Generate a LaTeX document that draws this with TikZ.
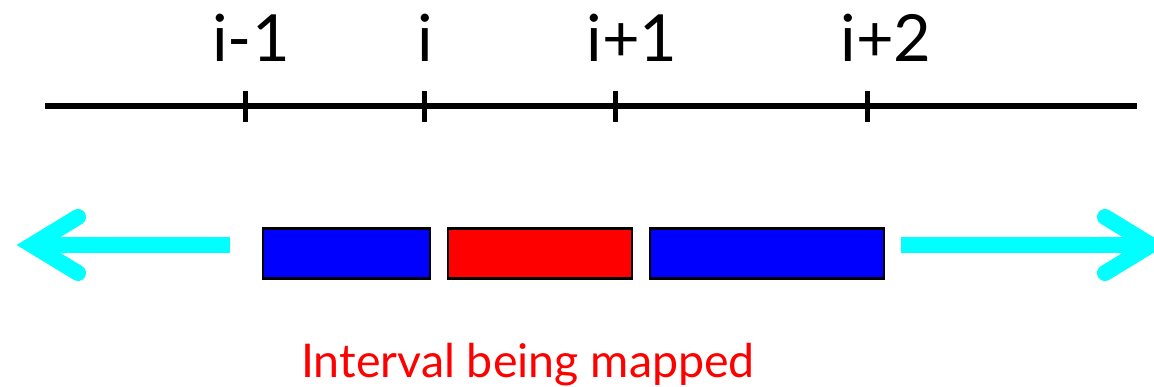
\documentclass[tikz,border=0pt]{standalone}
\usepackage{fontspec}
\setmainfont{Lato}
\definecolor{aqua}{RGB}{0,255,255}
\definecolor{pureblue}{RGB}{0,0,255}
\definecolor{purered}{RGB}{255,0,0}
\begin{document}
\begin{tikzpicture}[x=1pt,y=-1pt,
  axisline/.style={line width=5.5pt},
  tick/.style={line width=5pt},
  lab/.style={anchor=base,inner sep=0pt,font=\fontsize{65}{65}\selectfont},
  seg/.style={draw=black,line width=2.5pt,inner sep=0pt,minimum height=50pt},
  cyanarrow/.style={draw=aqua,line width=16pt},
  armstyle/.style={draw=aqua,line width=16pt,line cap=round,line join=miter}
]
\useasboundingbox (0,0) rectangle (1154,386);
% axis
\coordinate (axL) at (45,106);
\coordinate (axR) at (1137,106);
\draw[axisline] (axL) -- (axR);
\foreach \x/\n in {245/a,424/b,615/c,867/d}{
  \coordinate (t\n top) at (\x,91);
  \coordinate (t\n bot) at (\x,122);
  \draw[tick] (t\n top) -- (t\n bot);
}
\node[lab] (l1) at (251,61) {i-1};
\node[lab] (l2) at (425,61) {i};
\node[lab] (l3) at (632,61) {i+1};
\node[lab] (l4) at (886,61) {i+2};
% boxes
\node[seg,fill=pureblue,minimum width=167pt] (b1) at (346.5,253.5) {};
\node[seg,fill=purered,minimum width=184pt] (b2) at (540,253.5) {};
\node[seg,fill=pureblue,minimum width=234pt] (b3) at (767,253.5) {};
% left arrow
\coordinate (la0) at (230,245);
\coordinate (lav) at (32,245);
\coordinate (lau) at (78,217);
\coordinate (lad) at (78,273);
\draw[cyanarrow] (la0) -- (lav);
\draw[armstyle] (lau) -- (lav) -- (lad);
% right arrow
\coordinate (ra0) at (901,245);
\coordinate (rav) at (1151,245);
\coordinate (rau) at (1105,217);
\coordinate (rad) at (1105,273);
\draw[cyanarrow] (ra0) -- (rav);
\draw[armstyle] (rau) -- (rav) -- (rad);
% caption
\node[anchor=base,inner sep=0pt,text=purered,font=\fontsize{46.5}{46.5}\selectfont] (cap) at (528,377) {Interval being mapped};
\end{tikzpicture}
\end{document}
